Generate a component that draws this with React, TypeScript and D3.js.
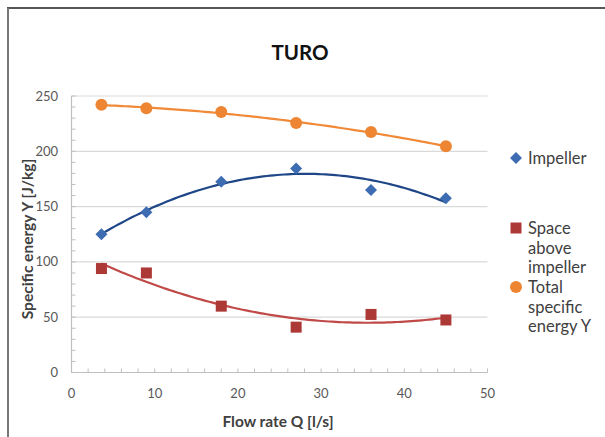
import React from "react";
import * as d3 from "d3";

const flowRate = [3.6, 9, 18, 27, 36, 45];
const impeller = [125, 145, 172.5, 184.5, 165, 157.5];
const spaceAbove = [94, 90, 60, 41, 52.5, 47.5];
const totalEnergy = [242, 239, 235.5, 225.5, 217.5, 204.5];
const seriesNames = ["Impeller", "Space above impeller", "Total specific energy Y"];
const xTicks = [0, 10, 20, 30, 40, 50];
const yTicks = [0, 50, 100, 150, 200, 250];

const W = 605, H = 437;
const FONT = "Lato, 'Open Sans', sans-serif";

function quadFit(xs: number[], ys: number[]) {
  // least squares y = a + b x + c x^2
  const S = [0, 0, 0, 0, 0];
  const T = [0, 0, 0];
  xs.forEach((x, i) => {
    for (let k = 0; k < 5; k++) S[k] += Math.pow(x, k);
    for (let k = 0; k < 3; k++) T[k] += ys[i] * Math.pow(x, k);
  });
  const M = [
    [S[0], S[1], S[2], T[0]],
    [S[1], S[2], S[3], T[1]],
    [S[2], S[3], S[4], T[2]],
  ];
  for (let i = 0; i < 3; i++) {
    for (let j = i + 1; j < 3; j++) {
      const f = M[j][i] / M[i][i];
      for (let k = i; k < 4; k++) M[j][k] -= f * M[i][k];
    }
  }
  const r = [0, 0, 0];
  for (let i = 2; i >= 0; i--) {
    let s = M[i][3];
    for (let k = i + 1; k < 3; k++) s -= M[i][k] * r[k];
    r[i] = s / M[i][i];
  }
  return (x: number) => r[0] + r[1] * x + r[2] * x * x;
}

export default function App() {
  const x = d3.scaleLinear().domain([0, 50]).range([71.5, 487.5]);
  const y = d3.scaleLinear().domain([0, 250]).range([372.5, 96]);

  const series = [
    { name: seriesNames[0], values: impeller, marker: "#3d6cb3", line: "#1f4787", shape: "diamond" },
    { name: seriesNames[1], values: spaceAbove, marker: "#ad3937", line: "#c04a48", shape: "square" },
    { name: seriesNames[2], values: totalEnergy, marker: "#ee8532", line: "#f08a38", shape: "circle" },
  ];

  const line = d3.line<[number, number]>().x(d => x(d[0])).y(d => y(d[1])).curve(d3.curveLinear);
  const xMin = d3.min(flowRate)!, xMax = d3.max(flowRate)!;
  const samples = d3.range(0, 101).map(i => xMin + (xMax - xMin) * i / 100);

  const marker = (shape: string, cx: number, cy: number, color: string, key: string | number) => {
    if (shape === "diamond") {
      const r = 6;
      return <path key={key} d={`M${cx},${cy - r}L${cx + r},${cy}L${cx},${cy + r}L${cx - r},${cy}Z`} fill={color} />;
    }
    if (shape === "square") {
      const s = 11;
      return <rect key={key} x={cx - s / 2} y={cy - s / 2} width={s} height={s} fill={color} />;
    }
    return <circle key={key} cx={cx} cy={cy} r={6} fill={color} />;
  };

  const minorY = d3.range(0, 251, 10);
  const minorX = d3.range(0, 51, 2);

  const legendLines = [["Impeller"], ["Space", "above", "impeller"], ["Total", "specific", "energy Y"]];
  const legendY = [158, 228, 287];

  return (
    <svg width={W} height={H} style={{ position: "absolute", left: 0, top: 0, background: "#fff" }} fontFamily={FONT}>
      <rect x={0} y={0} width={W} height={H} fill="#fff" />
      {/* outer border (top & left) */}
      <line x1={7} y1={8} x2={W} y2={8} stroke="#555" strokeWidth={2} />
      <line x1={8} y1={8} x2={8} y2={H} stroke="#777" strokeWidth={2} />

      {/* title */}
      <text x={300} y={60} textAnchor="middle" fontWeight="bold" fontSize={20.5} fill="#111">TURO</text>

      {/* gridlines */}
      {yTicks.filter(t => t > 0).map(t => (
        <line key={t} x1={x(0)} x2={x(50)} y1={y(t)} y2={y(t)} stroke="#d9d9d9" strokeWidth={1.2} />
      ))}
      {/* axes */}
      <line x1={x(0)} x2={x(50)} y1={y(0)} y2={y(0)} stroke="#bfbfbf" strokeWidth={1.2} />
      <line x1={x(0)} x2={x(0)} y1={y(0)} y2={y(250)} stroke="#bfbfbf" strokeWidth={1.2} />
      {minorY.map(t => (
        <line key={"my" + t} x1={x(0)} x2={x(0) + 4} y1={y(t)} y2={y(t)} stroke="#bfbfbf" strokeWidth={1} />
      ))}
      {minorX.map(t => (
        <line key={"mx" + t} x1={x(t)} x2={x(t)} y1={y(0)} y2={y(0) - 4} stroke="#bfbfbf" strokeWidth={1} />
      ))}

      {/* tick labels */}
      {yTicks.map(t => (
        <text key={"yl" + t} x={58} y={y(t) + 4.5} textAnchor="end" fontSize={13} fill="#595959">{t}</text>
      ))}
      {xTicks.map(t => (
        <text key={"xl" + t} x={x(t)} y={398} textAnchor="middle" fontSize={13} fill="#595959">{t}</text>
      ))}

      {/* axis titles */}
      <text x={278} y={427} textAnchor="middle" fontWeight="bold" fontSize={15.5} fill="#404040">Flow rate Q [l/s]</text>
      <text transform={`translate(33,239) rotate(-90)`} textAnchor="middle" fontWeight="bold" fontSize={15.5} fill="#404040">Specific energy Y [J/kg]</text>

      {/* trendlines */}
      {series.map(s => {
        const f = quadFit(flowRate, s.values);
        const pts = samples.map(v => [v, f(v)] as [number, number]);
        return <path key={"t" + s.name} d={line(pts)!} fill="none" stroke={s.line} strokeWidth={2.2} />;
      })}

      {/* markers */}
      {series.map(s => (
        <g key={"m" + s.name}>
          {s.values.map((v, i) => marker(s.shape, x(flowRate[i]), y(v), s.marker, i))}
        </g>
      ))}

      {/* legend */}
      {series.map((s, i) => (
        <g key={"lg" + s.name}>
          {marker(s.shape, 516, legendY[i], s.marker, "lm")}
          {legendLines[i].map((ln, j) => (
            <text key={j} x={528} y={legendY[i] + 6 + j * 19.5} fontSize={16.5} fill="#404040">{ln}</text>
          ))}
        </g>
      ))}
    </svg>
  );
}
